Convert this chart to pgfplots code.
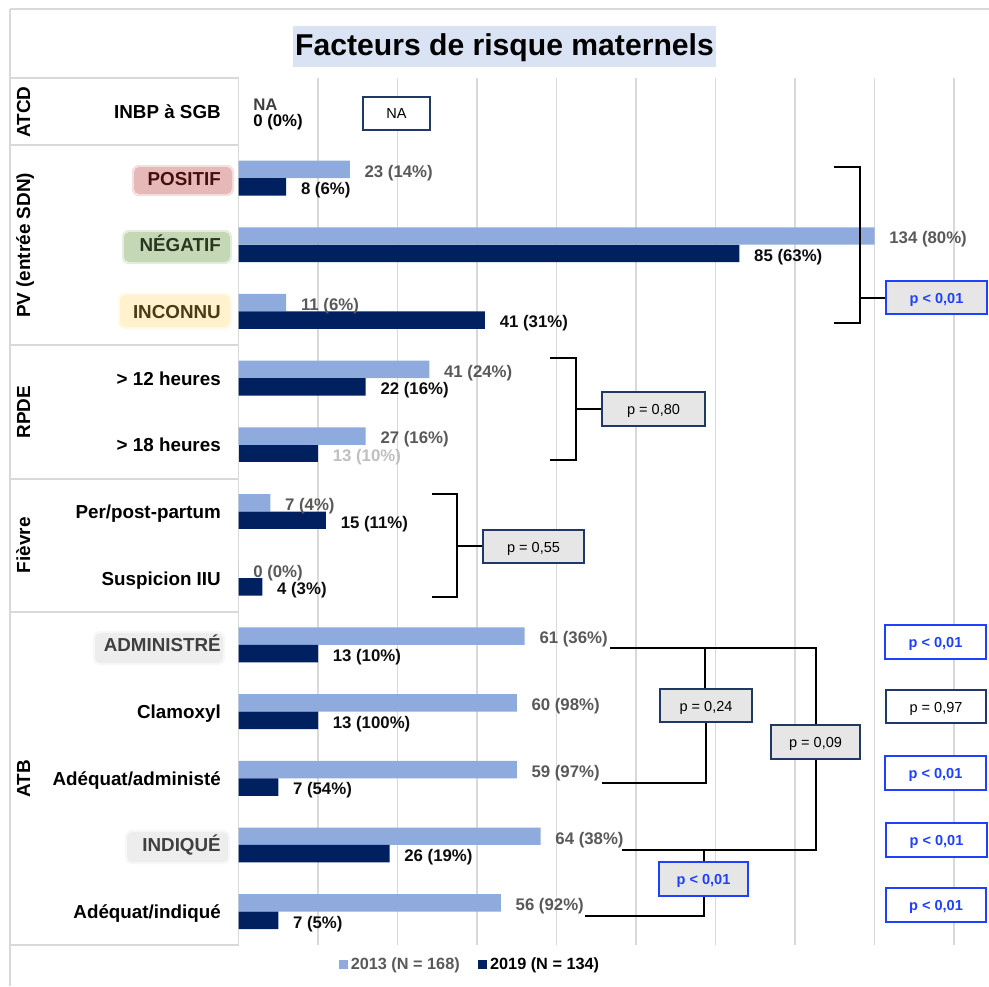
\documentclass[border=0pt]{standalone}
\usepackage{pgfplots}
\pgfplotsset{compat=1.18}
\usepackage{fontspec}
\setmainfont{Liberation Sans}
\definecolor{c13}{HTML}{8FAADC}
\definecolor{c19}{HTML}{002060}
\definecolor{gridc}{HTML}{D9D9D9}
\definecolor{titlebg}{HTML}{DAE3F3}
\definecolor{lab13}{HTML}{595959}
\definecolor{lab19}{HTML}{0D0D0D}
\definecolor{labfade}{HTML}{BFBFBF}
\definecolor{navyb}{HTML}{1F3864}
\definecolor{blueb}{RGB}{32,64,255}
\definecolor{boxgray}{HTML}{E7E6E6}
\definecolor{posbg}{HTML}{E6B9B8}
\definecolor{postx}{RGB}{70,15,15}
\definecolor{negbg}{HTML}{C5D8B6}
\definecolor{negtx}{RGB}{40,55,30}
\definecolor{incbg}{HTML}{FFF2CC}
\definecolor{inctx}{RGB}{75,60,25}
\definecolor{atbbg}{HTML}{EDEDED}
\definecolor{atbtx}{HTML}{404040}
\newcommand\fs[1]{\fontsize{#1}{#1}\selectfont}
\newcommand\softbox[5]{% color, x1,y1,x2,y2
  \fill[#1, opacity=0.45, rounded corners=5pt] (#2-2,#3-2) rectangle (#4+2,#5+2);
  \fill[#1, rounded corners=4pt] (#2,#3) rectangle (#4,#5);}
\begin{document}
\begin{tikzpicture}
\path[use as bounding box, x=0.75pt, y=-0.75pt] (0,0) rectangle (989,986);
\begin{axis}[
  at={(178.875pt,-708.75pt)}, anchor=south west,
  scale only axis, width=562.875pt, height=650.25pt,
  xbar, bar width=13.1pt, bar shift=0pt,
  xmin=0, xmax=94.4, ymin=-0.5, ymax=12.5, y dir=reverse,
  enlargelimits=false, clip=false,
  axis line style={draw=none}, major tick style={draw=none},
  xtick={0,10,...,90}, xticklabels={}, ytick=\empty,
  xmajorgrids, grid style={gridc, line width=1.3pt},
  nodes near coords={\pgfplotspointmeta}, point meta=explicit symbolic,
  every node near coord/.append style={anchor=west, inner sep=0pt, xshift=10.9pt, yshift=-2.6pt, font=\bfseries\fs{12.6}},
  legend style={at={(0.309,-0.023)}, anchor=center, draw=none, fill=none,
    legend columns=2, font=\bfseries\fs{12.2}, inner sep=0pt,
    /tikz/every even column/.append style={column sep=12pt}},
]
\addplot[fill=c13, draw=none,
  legend image code/.code={\fill[c13] (0pt,-3.4pt) rectangle (6.8pt,3.4pt);},
  every node near coord/.append style={text=lab13}]
  table[col sep=semicolon, row sep=\\, x=x, y=y, meta=lab] {
y;x;lab\\
0.869;14;23 (14\%)\\
1.869;80;134 (80\%)\\
2.869;6;11 (6\%)\\
3.869;24;41 (24\%)\\
4.869;16;27 (16\%)\\
5.869;4;7 (4\%)\\
6.869;0;0 (0\%)\\
7.869;36;61 (36\%)\\
8.869;35;60 (98\%)\\
9.869;35;59 (97\%)\\
10.869;38;64 (38\%)\\
11.869;33;56 (92\%)\\
};
\addlegendentry{\textcolor{lab13}{2013 (N = 168)}}
\addplot[fill=c19, draw=none,
  legend image code/.code={\fill[c19] (0pt,-3.4pt) rectangle (6.8pt,3.4pt);},
  every node near coord/.append style={text=lab19}]
  table[col sep=semicolon, row sep=\\, x=x, y=y, meta=lab] {
y;x;lab\\
1.131;6;8 (6\%)\\
2.131;63;85 (63\%)\\
3.131;31;41 (31\%)\\
4.131;16;22 (16\%)\\
6.131;11;15 (11\%)\\
7.131;3;4 (3\%)\\
8.131;10;13 (10\%)\\
9.131;10;13 (100\%)\\
10.131;5;7 (54\%)\\
11.131;19;26 (19\%)\\
12.131;5;7 (5\%)\\
};
\addlegendentry{\textcolor{black}{2019 (N = 134)}}
\addplot[fill=c19, draw=none, forget plot,
  every node near coord/.append style={text=labfade}]
  table[col sep=semicolon, row sep=\\, x=x, y=y, meta=lab] {
y;x;lab\\
5.131;10;13 (10\%)\\
};
\end{axis}
\begin{scope}[x=0.75pt, y=-0.75pt]
% frame and table
\draw[gridc, line width=1.3pt] (10,9) -- (989,9);
\draw[gridc, line width=1.3pt] (10,9) -- (10,986);
\foreach \yy in {78,145.3,345.3,478.7,612,945} \draw[gridc, line width=1.3pt] (10,\yy) -- (238.5,\yy);
% title
\fill[titlebg] (293,26) rectangle (716,67);
\node[anchor=base, inner sep=0pt] at (504.5,55) {\bfseries\fs{22.6}Facteurs de risque maternels};
% group labels
\foreach \yc/\t in {112/ATCD, 245.3/PV (entrée SDN), 412/RPDE, 545.3/Fièvre, 778.7/ATB}
  \node[rotate=90, anchor=base, inner sep=0pt] at (30,\yc) {\bfseries\fs{14.2}\t};
% category label backgrounds
\softbox{posbg}{134}{167}{232}{194}
\softbox{negbg}{124}{232}{230}{262}
\softbox{incbg}{120}{295}{230}{327}
\softbox{atbbg}{95}{633}{223}{663}
\softbox{atbbg}{127}{832}{228}{862}
% category labels
\foreach \yc/\t/\c in {112/{INBP à SGB}/black, 178.7/POSITIF/postx, 245.3/NÉGATIF/negtx, 312/INCONNU/inctx,
  378.7/{> 12 heures}/black, 445.3/{> 18 heures}/black, 512/{Per/post-partum}/black, 578.7/{Suspicion IIU}/black,
  645.3/ADMINISTRÉ/atbtx, 712/Clamoxyl/black, 778.7/{Adéquat/administé}/black, 845.3/INDIQUÉ/atbtx, 912/{Adéquat/indiqué}/black}
  \node[anchor=base east, inner sep=0pt, text=\c] at (221,\yc+6.6) {\bfseries\fs{14.1}\t};
% NA
\node[anchor=base west, inner sep=0pt, text=atbtx] at (253,110) {\bfseries\fs{12.6}NA};
\node[anchor=base west, inner sep=0pt] at (253,126.5) {\bfseries\fs{12.6}0 (0\%)};
\draw[navyb, line width=1.4pt, fill=white] (363,97) rectangle (430,130);
\node[anchor=base, inner sep=0pt] at (396.5,118.5) {\fs{10.9}NA};
% brackets
\begin{scope}[line width=1.2pt]
\draw (834,167) -- (860,167) -- (860,323) -- (834,323);
\draw[line width=1.6pt] (860,298) -- (887,298);
\draw (550,358) -- (576,358) -- (576,460) -- (550,460);
\draw[line width=1.6pt] (576,409) -- (602,409);
\draw (432,494) -- (457,494) -- (457,597) -- (432,597);
\draw[line width=1.6pt] (457,546) -- (483,546);
\draw (610,648) -- (816,648) -- (816,725);
\draw (816,759) -- (816,850) -- (622,850);
\draw (705,648) -- (705,689);
\draw (706,722) -- (706,783) -- (602,783);
\draw (704,850) -- (704,862);
\draw (704,896) -- (704,916) -- (585,916);
\end{scope}
% p boxes
\newcommand\pbox[6]{% x1,y1,x2,y2,style,text
  \draw[line width=1.5pt, #5] (#1,#2) rectangle (#3,#4);
  \node[anchor=base, inner sep=0pt] at ({(#1+#3)/2},{(#2+#4)/2+5.5}) {#6};}
\pbox{886}{281}{987}{314}{draw=blueb, fill=boxgray}{\textcolor{blueb}{\bfseries\fs{10.9}p < 0,01}}
\pbox{602}{392}{705}{426}{draw=navyb, fill=boxgray}{\fs{10.9}p = 0,80}
\pbox{483}{530}{584}{563}{draw=navyb, fill=boxgray}{\fs{10.9}p = 0,55}
\pbox{660}{689}{752}{722}{draw=navyb, fill=boxgray}{\fs{10.9}p = 0,24}
\pbox{771}{725}{860}{759}{draw=navyb, fill=boxgray}{\fs{10.9}p = 0,09}
\pbox{659}{862}{748}{896}{draw=blueb, fill=boxgray}{\textcolor{blueb}{\bfseries\fs{10.9}p < 0,01}}
% right column
\pbox{885}{625}{986}{659}{draw=blueb, fill=white}{\textcolor{blueb}{\bfseries\fs{10.9}p < 0,01}}
\pbox{886}{690}{986}{723}{draw=navyb, fill=white}{\fs{10.9}p = 0,97}
\pbox{885}{756}{986}{790}{draw=blueb, fill=white}{\textcolor{blueb}{\bfseries\fs{10.9}p < 0,01}}
\pbox{886}{823}{987}{857}{draw=blueb, fill=white}{\textcolor{blueb}{\bfseries\fs{10.9}p < 0,01}}
\pbox{886}{888}{986}{922}{draw=blueb, fill=white}{\textcolor{blueb}{\bfseries\fs{10.9}p < 0,01}}
\end{scope}
\end{tikzpicture}
\end{document}
